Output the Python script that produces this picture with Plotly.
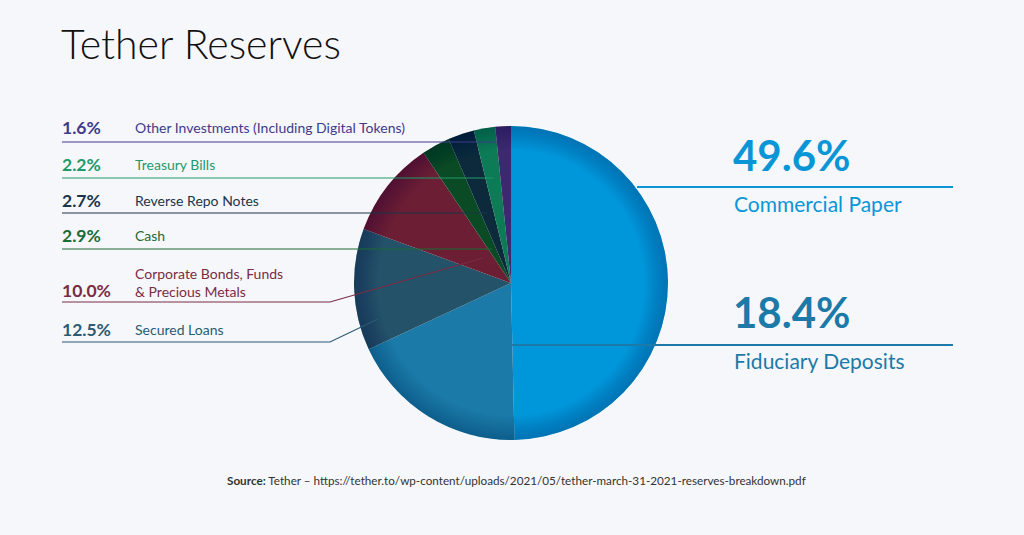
import plotly.graph_objects as go

# ---- data ----
categories = ["Commercial Paper", "Fiduciary Deposits", "Secured Loans",
              "Corporate Bonds, Funds<br>& Precious Metals", "Cash",
              "Reverse Repo Notes", "Treasury Bills",
              "Other Investments (Including Digital Tokens)"]
values = [49.6, 18.4, 12.5, 10.0, 2.9, 2.7, 2.2, 1.6]
slice_colors = ["#0097da", "#1b7aa8", "#245269", "#6b1e34", "#0a4b25",
                "#0c2a3c", "#0e7b57", "#3a2b70"]
text_colors = ["#0a96d6", "#1b7aa8", "#2b5b73", "#7a2c43", "#1b6b35",
               "#1b3448", "#1f9a68", "#3f3a8a"]

W, H = 1024, 535
def px(x):
    return x / W
def py(y):
    return 1 - y / H

BG = "#f6f7fb"
FONT = "Lato"

# pie geometry (pixel)
cx, cy, r = 511, 283, 157
dom_x = [px(cx - r), px(cx + r)]
dom_y = [py(cy + r), py(cy - r)]

fig = go.Figure()
fig.add_trace(go.Pie(
    values=values, labels=categories, sort=False, direction="clockwise",
    rotation=0, textinfo="none", hoverinfo="label+percent",
    marker=dict(colors=slice_colors, line=dict(width=0)),
    domain=dict(x=dom_x, y=dom_y), showlegend=False,
))
# edge shading rings (visual depth)
n = 14
for i in range(n):
    hole = 0.85 + 0.145 * i / (n - 1)
    fig.add_trace(go.Pie(
        values=[1], sort=False, hole=hole, textinfo="none", hoverinfo="skip",
        marker=dict(colors=["rgba(0,20,40,0.016)"], line=dict(width=0)),
        domain=dict(x=dom_x, y=dom_y), showlegend=False,
    ))

annotations = []
shapes = []

def add_text(x, y, text, size, color, bold=False, weight=None, xanchor="left"):
    annotations.append(dict(
        x=px(x), y=py(y), xref="paper", yref="paper", text=text,
        showarrow=False, xanchor=xanchor, yanchor="middle", align="left",
        font=dict(family=FONT, size=size, color=color,
                  weight=(700 if bold else (weight or 400)))))

def add_line(pts, color, width=1.2):
    path = "M " + " L ".join(f"{px(x)},{py(y)}" for x, y in pts)
    shapes.append(dict(type="path", path=path, xref="paper", yref="paper",
                       line=dict(color=color, width=width)))

# left-side labels (small slices)
left_rows = [
    (7, 128, [(62, 142), (497, 142)]),
    (6, 164, [(62, 178), (493, 178)]),
    (5, 200, [(62, 213), (487, 213)]),
    (4, 236, [(62, 249), (492, 249)]),
    (3, 290, [(62, 302), (330, 302), (483, 258)]),
    (2, 329, [(62, 342), (330, 342), (378, 319)]),
]
for idx, yc, pts in left_rows:
    add_text(60, yc, f"{values[idx]:.1f}%", 17.5, text_colors[idx], bold=True)
    if idx == 3:
        add_text(133, yc - 8, categories[idx], 14, text_colors[idx])
    else:
        add_text(133, yc, categories[idx], 14, text_colors[idx])
    add_line(pts, text_colors[idx])

# right-side labels (big slices)
right_rows = [
    (0, 155, 203, [(637, 187), (953, 187)]),
    (1, 312, 360, [(503, 345), (953, 345)]),
]
for idx, yv, yl, pts in right_rows:
    add_text(731, yv, f"{values[idx]:.1f}%", 42, text_colors[idx], bold=True)
    add_text(732, yl, categories[idx], 21, text_colors[idx])
    add_line(pts, text_colors[idx], width=1.8)

# title
add_text(59, 44, "Tether Reserves", 41, "#111111", weight=300)

# source
annotations.append(dict(
    x=px(516), y=py(480), xref="paper", yref="paper", showarrow=False,
    xanchor="center", yanchor="middle",
    text="<b>Source:</b> Tether – https://tether.to/wp-content/uploads/2021/05/tether-march-31-2021-reserves-breakdown.pdf",
    font=dict(family=FONT, size=11.7, color="#333333")))

fig.update_layout(
    width=W, height=H, margin=dict(l=0, r=0, t=0, b=0),
    paper_bgcolor=BG, plot_bgcolor=BG,
    annotations=annotations, shapes=shapes, showlegend=False,
)
fig.write_html("out.html", config={"displayModeBar": False},
               post_script="document.body.style.margin='0';"
                           "document.body.style.background='#f6f7fb';")
